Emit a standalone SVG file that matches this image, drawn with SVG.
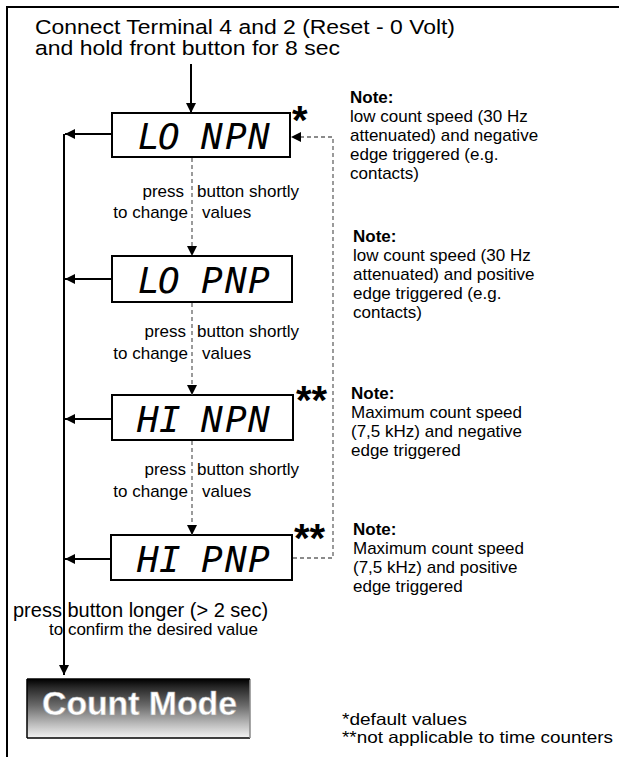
<svg xmlns="http://www.w3.org/2000/svg" width="619" height="757" viewBox="0 0 619 757">
<style>
.t{font-family:"Liberation Sans",Arial,sans-serif;fill:#000}
.hd{font-size:20.5px}
.lbl{font-size:17px}
.note{font-size:17px}
.nb{font-weight:bold}
.seg{font-family:"DejaVu Sans Mono","Liberation Mono",monospace;font-style:italic;font-size:36px;fill:#000}
.ast{font-family:"Liberation Sans",Arial,sans-serif;font-weight:bold;font-size:40px;fill:#000}
.box{fill:#fff;stroke:#000;stroke-width:2}
.solid{fill:none;stroke:#000;stroke-width:2}
.dash{fill:none;stroke:#666;stroke-width:1.3;stroke-dasharray:4 3}
</style>
<defs>
<marker id="ah" viewBox="0 0 10 10" refX="10" refY="5" markerWidth="10" markerHeight="10" markerUnits="userSpaceOnUse" orient="auto">
<path d="M0,0 L10,5 L0,10 z" fill="#000"/>
</marker>
<linearGradient id="cm" x1="0" y1="0" x2="0" y2="1">
<stop offset="0" stop-color="#000"/>
<stop offset="0.15" stop-color="#2a2a2a"/>
<stop offset="0.45" stop-color="#6a6a6a"/>
<stop offset="0.75" stop-color="#b8b8b8"/>
<stop offset="1" stop-color="#f4f4f4"/>
</linearGradient>
</defs>

<g id="frame">
<line x1="6" y1="7" x2="619" y2="7" stroke="#000" stroke-width="2"/>
<line x1="7" y1="6" x2="7" y2="757" stroke="#000" stroke-width="2"/>
</g>

<g id="start">
<text class="t hd" x="35" y="34" textLength="420" lengthAdjust="spacingAndGlyphs">Connect Terminal 4 and 2 (Reset - 0 Volt)</text>
<text class="t hd" x="35" y="55" textLength="305" lengthAdjust="spacingAndGlyphs">and hold front button for 8 sec</text>
</g>

<g id="lo-npn">
<rect class="box" x="112" y="113" width="178" height="44"/>
<text class="seg" x="138 158 182 201 225 248" y="149">LO NPN</text>
<text class="ast" x="292" y="134">*</text>
</g>

<g id="lo-pnp">
<rect class="box" x="112" y="256" width="180" height="46"/>
<text class="seg" x="138 158 182 201 225 248" y="293">LO PNP</text>
</g>

<g id="hi-npn">
<rect class="box" x="112" y="395" width="181" height="45"/>
<text class="seg" x="137 159 182 201 225 248" y="432">HI NPN</text>
<text class="ast" x="296" y="414">**</text>
</g>

<g id="hi-pnp">
<rect class="box" x="111" y="535" width="181" height="45"/>
<text class="seg" x="137 159 182 201 225 248" y="572">HI PNP</text>
<text class="ast" x="294" y="552">**</text>
</g>

<g id="count-mode">
<rect x="27" y="679" width="223" height="59" fill="url(#cm)"/>
<line x1="27" y1="679" x2="27" y2="738" stroke="#000" stroke-width="1.5"/>
<line x1="27" y1="738" x2="250" y2="738" stroke="#000" stroke-width="1.5"/>
<line x1="250" y1="679" x2="250" y2="738" stroke="#888" stroke-width="1.5"/>
<line x1="27" y1="679" x2="250" y2="679" stroke="#000" stroke-width="1.5"/>
<text x="42" y="715" font-family="Liberation Sans,Arial,sans-serif" font-weight="bold" font-size="33" fill="#fff" stroke="#aaa" stroke-width="0.6" textLength="195" lengthAdjust="spacingAndGlyphs">Count Mode</text>
</g>

<g id="notes">
<text class="t note" x="350" y="103"><tspan class="nb">Note:</tspan><tspan x="350" dy="19">low count speed (30 Hz</tspan><tspan x="350" dy="19">attenuated) and negative</tspan><tspan x="350" dy="19">edge triggered (e.g.</tspan><tspan x="350" dy="19">contacts)</tspan></text>
<text class="t note" x="353" y="242"><tspan class="nb">Note:</tspan><tspan x="353" dy="19">low count speed (30 Hz</tspan><tspan x="353" dy="19">attenuated) and positive</tspan><tspan x="353" dy="19">edge triggered (e.g.</tspan><tspan x="353" dy="19">contacts)</tspan></text>
<text class="t note" x="351" y="399"><tspan class="nb">Note:</tspan><tspan x="351" dy="19">Maximum count speed</tspan><tspan x="351" dy="19">(7,5 kHz) and negative</tspan><tspan x="351" dy="19">edge triggered</tspan></text>
<text class="t note" x="353" y="535"><tspan class="nb">Note:</tspan><tspan x="353" dy="19">Maximum count speed</tspan><tspan x="353" dy="19">(7,5 kHz) and positive</tspan><tspan x="353" dy="19">edge triggered</tspan></text>
<text class="t" font-size="16.5" x="342" y="725" textLength="125" lengthAdjust="spacingAndGlyphs">*default values</text>
<text class="t" font-size="16.5" x="342" y="743" textLength="271" lengthAdjust="spacingAndGlyphs">**not applicable to time counters</text>
</g>

<g id="labels">
<text class="t lbl" x="184" y="197" text-anchor="end">press</text>
<text class="t lbl" x="197" y="197">button shortly</text>
<text class="t lbl" x="188" y="218" text-anchor="end">to change</text>
<text class="t lbl" x="202" y="218">values</text>
<text class="t lbl" x="186" y="337" text-anchor="end">press</text>
<text class="t lbl" x="197" y="337">button shortly</text>
<text class="t lbl" x="188" y="359" text-anchor="end">to change</text>
<text class="t lbl" x="202" y="359">values</text>
<text class="t lbl" x="186" y="475" text-anchor="end">press</text>
<text class="t lbl" x="197" y="475">button shortly</text>
<text class="t lbl" x="188" y="497" text-anchor="end">to change</text>
<text class="t lbl" x="202" y="497">values</text>
<text class="t" font-size="20" x="13" y="617">press button longer (&gt; 2 sec)</text>
<text class="t" font-size="17" x="49" y="635">to confirm the desired value</text>
</g>

<g id="connectors">
<line class="solid" x1="191" y1="64" x2="191" y2="113" marker-end="url(#ah)"/>
<line class="solid" x1="64" y1="134" x2="64" y2="675" marker-end="url(#ah)"/>
<line class="solid" x1="112" y1="134" x2="65" y2="134" marker-end="url(#ah)"/>
<line class="solid" x1="112" y1="279" x2="65" y2="279" marker-end="url(#ah)"/>
<line class="solid" x1="112" y1="419" x2="65" y2="419" marker-end="url(#ah)"/>
<line class="solid" x1="111" y1="559" x2="65" y2="559" marker-end="url(#ah)"/>
<line class="dash" x1="192" y1="158" x2="192" y2="256" marker-end="url(#ah)"/>
<line class="dash" x1="192" y1="303" x2="192" y2="395" marker-end="url(#ah)"/>
<line class="dash" x1="192" y1="441" x2="192" y2="535" marker-end="url(#ah)"/>
<polyline class="dash" points="293,558 333,558 333,137 291,137" marker-end="url(#ah)"/>
</g>
</svg>
